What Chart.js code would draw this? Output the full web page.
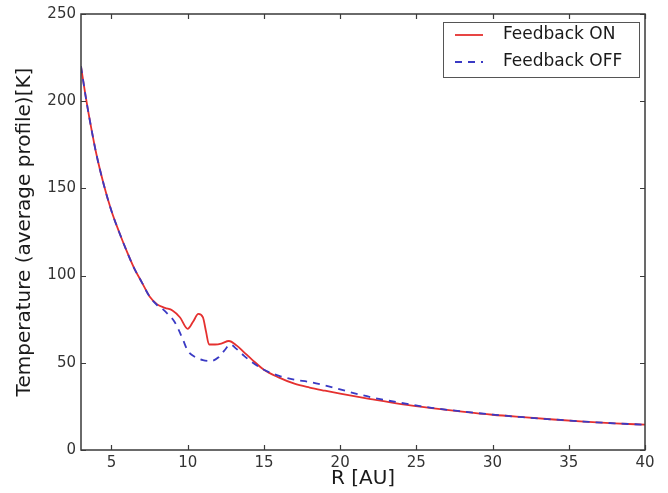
<!DOCTYPE html>
<html><head><meta charset="utf-8">
<script src="https://cdn.jsdelivr.net/npm/chart.js@4.4.1/dist/chart.umd.min.js"></script>
<style>html,body{margin:0;padding:0;background:#fff}#wrap{width:668px;height:493px}</style>
</head><body><div id="wrap"><canvas id="c" width="668" height="493"></canvas></div>
<script>
const rOn = [3, 3.3, 3.6, 4, 4.5, 5, 5.5, 6, 6.5, 7, 7.5, 8, 8.5, 9, 9.5, 10, 10.35, 10.7, 11, 11.2, 11.4, 11.8, 12.2, 12.7, 13.2, 13.7, 14.2, 15, 16, 17, 18, 19, 20, 22, 24, 26, 28, 30, 32, 34, 36, 38, 40];
const tOn = [220, 203, 188, 170, 152, 137, 125, 114, 104, 96, 88, 83.5, 81.5, 80, 76, 69.5, 73.5, 78, 76, 68, 60.5, 60.5, 61, 62.5, 60, 56, 52, 46, 41.5, 38, 35.8, 34, 32.3, 29.2, 26.3, 24, 22, 20.2, 18.8, 17.5, 16.3, 15.3, 14.5];
const rOff = [3, 3.3, 3.6, 4, 4.5, 5, 5.5, 6, 6.5, 7, 7.5, 8, 8.4, 8.8, 9.1, 9.4, 9.7, 10, 10.5, 11, 11.5, 12, 12.4, 12.8, 13.2, 13.7, 14.2, 15, 16, 17, 18, 19, 20, 22, 24, 26, 28, 30, 32, 34, 36, 38, 40];
const tOff = [220, 203, 188, 170, 152, 137, 125, 114, 104, 96, 88, 83, 80.5, 77, 74, 69, 63, 57, 53.3, 51.5, 51, 53, 57, 60.5, 58, 54, 50.5, 46, 42.5, 40.3, 39, 37, 34.7, 30.3, 27, 24.2, 22.1, 20.3, 18.8, 17.5, 16.3, 15.3, 14.5];
const xTicks = [5, 10, 15, 20, 25, 30, 35, 40];
const yTicks = [0, 50, 100, 150, 200, 250];
const seriesLabels = ['Feedback ON', 'Feedback OFF'];
const xTitle = 'R [AU]';
const yTitle = 'Temperature (average profile)[K]';

const FONT = "'DejaVu Sans', sans-serif";
const RED = '#e5302f';
const BLUE = '#3a3ac4';

const frameTicks = {
  id: 'frameTicks',
  afterDraw(chart) {
    const ctx = chart.ctx;
    const a = chart.chartArea;
    const xs = chart.scales.x, ys = chart.scales.y;
    ctx.save();
    ctx.strokeStyle = '#3a3a3a';
    ctx.lineWidth = 1.5;
    ctx.strokeRect(a.left, a.top, a.right - a.left, a.bottom - a.top);
    ctx.lineWidth = 1.2;
    const L = 5;
    ctx.beginPath();
    xs.ticks.forEach(t => {
      const px = Math.round(xs.getPixelForValue(t.value)) + 0.5;
      ctx.moveTo(px, a.bottom); ctx.lineTo(px, a.bottom - L);
      ctx.moveTo(px, a.top); ctx.lineTo(px, a.top + L);
    });
    ys.ticks.forEach(t => {
      const py = Math.round(ys.getPixelForValue(t.value)) + 0.5;
      ctx.moveTo(a.left, py); ctx.lineTo(a.left + L, py);
      ctx.moveTo(a.right, py); ctx.lineTo(a.right - L, py);
    });
    ctx.stroke();

    // legend box
    const bx = 443, by = 22, bw = 196, bh = 55;
    ctx.fillStyle = '#fff';
    ctx.fillRect(bx, by, bw, bh);
    ctx.strokeStyle = '#555';
    ctx.lineWidth = 1;
    ctx.strokeRect(bx + 0.5, by + 0.5, bw, bh);
    const rows = [35, 62];
    chart.data.datasets.forEach((ds, i) => {
      ctx.strokeStyle = ds.borderColor;
      ctx.lineWidth = ds.borderWidth;
      ctx.setLineDash(ds.borderDash || []);
      ctx.beginPath();
      ctx.moveTo(455, rows[i]); ctx.lineTo(483, rows[i]);
      ctx.stroke();
      ctx.setLineDash([]);
      ctx.fillStyle = '#1a1a1a';
      ctx.font = '17px ' + FONT;
      ctx.textBaseline = 'middle';
      ctx.textAlign = 'left';
      ctx.fillText(ds.label, 503, rows[i]);
    });
    ctx.restore();
  }
};

new Chart(document.getElementById('c'), {
  type: 'line',
  data: {
    datasets: [
      { label: seriesLabels[0], data: rOn.map((r, i) => ({x: r, y: tOn[i]})),
        borderColor: RED, borderWidth: 1.8, pointRadius: 0, fill: false, order: 2,
        cubicInterpolationMode: 'monotone' },
      { label: seriesLabels[1], data: rOff.map((r, i) => ({x: r, y: tOff[i]})),
        borderColor: BLUE, borderWidth: 1.8, borderDash: [7, 6], pointRadius: 0, fill: false, order: 1,
        cubicInterpolationMode: 'monotone' }
    ]
  },
  options: {
    responsive: false,
    animation: false,
    devicePixelRatio: 1,
    layout: { padding: { left: 0, right: 23, top: 13, bottom: 0 } },
    plugins: { legend: { display: false }, tooltip: { enabled: false } },
    scales: {
      x: {
        type: 'linear', min: 3, max: 40,
        afterBuildTicks: s => { s.ticks = xTicks.map(v => ({ value: v })); },
        afterFit: s => { s.height = 43; },
        grid: { display: false, drawTicks: false, tickLength: 0 },
        border: { display: false },
        ticks: { color: '#333', font: { family: FONT, size: 15 }, padding: 4, maxRotation: 0 },
        title: { display: true, text: xTitle, color: '#1a1a1a',
                 font: { family: FONT, size: 20, lineHeight: 1.2 }, padding: { top: 0, bottom: 2 } }
      },
      y: {
        type: 'linear', min: 0, max: 250,
        afterBuildTicks: s => { s.ticks = yTicks.map(v => ({ value: v })); },
        afterFit: s => { s.width = 81; },
        grid: { display: false, drawTicks: false, tickLength: 0 },
        border: { display: false },
        ticks: { color: '#333', font: { family: FONT, size: 15 }, padding: 5 },
        title: { display: true, text: yTitle, color: '#1a1a1a',
                 font: { family: FONT, size: 20, lineHeight: 1.2 }, padding: { top: 13, bottom: 0 } }
      }
    }
  },
  plugins: [frameTicks]
});
</script>
</body></html>
